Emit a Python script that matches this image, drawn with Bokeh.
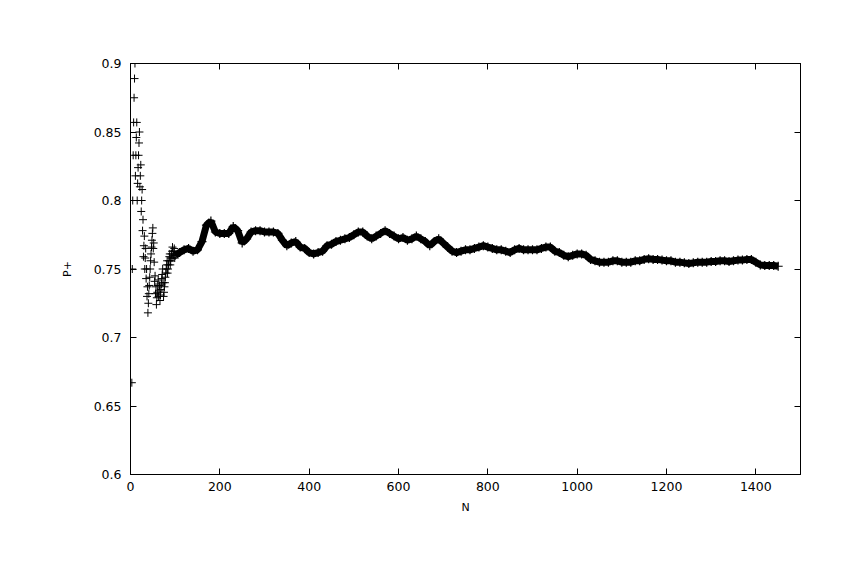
from bokeh.plotting import figure
from bokeh.models import LinearAxis, FixedTicker, Range1d, CustomJSTickFormatter
from bokeh.embed import file_html
from bokeh.resources import INLINE

# ---- data ----
# early scattered running fraction, N = 3 .. 99
n_early = list(range(3, 100))
p_early = [0.667, 0.75, 0.8, 0.833, 0.857, 0.875, 0.889, 0.9, 0.818, 0.833,
           0.846, 0.857, 0.8, 0.8125, 0.824, 0.833, 0.842, 0.85, 0.810, 0.818,
           0.826, 0.792, 0.8, 0.808, 0.778, 0.786, 0.759, 0.767, 0.774, 0.75,
           0.758, 0.765, 0.743, 0.75, 0.730, 0.737, 0.718, 0.725, 0.732, 0.738,
           0.744, 0.75, 0.756, 0.761, 0.766, 0.771, 0.776, 0.78, 0.765, 0.769,
           0.755, 0.741, 0.745, 0.732, 0.737, 0.724, 0.729, 0.733, 0.738, 0.742,
           0.730, 0.734, 0.738, 0.727, 0.731, 0.735, 0.739, 0.743, 0.746, 0.75,
           0.740, 0.730, 0.733, 0.737, 0.740, 0.744, 0.747, 0.75, 0.753, 0.756,
           0.747, 0.75, 0.753, 0.756, 0.759, 0.761, 0.753, 0.756, 0.758, 0.761,
           0.763, 0.766, 0.758, 0.760, 0.763, 0.765, 0.758]

# dense band, N = 100 .. 1450 step 10
n_band = list(range(100, 1451, 10))
p_band = [0.760, 0.762, 0.764, 0.765, 0.763, 0.764, 0.770, 0.782, 0.785, 0.777,
          0.776, 0.776, 0.776, 0.781, 0.778, 0.769, 0.772, 0.777, 0.778, 0.778,
          0.777, 0.777, 0.777, 0.776, 0.771, 0.767, 0.769, 0.770, 0.766, 0.765,
          0.762, 0.761, 0.762, 0.763, 0.767, 0.768, 0.770, 0.771, 0.772, 0.773,
          0.775, 0.777, 0.777, 0.774, 0.772, 0.774, 0.776, 0.778, 0.776, 0.774,
          0.772, 0.773, 0.771, 0.772, 0.774, 0.772, 0.770, 0.767, 0.770, 0.772,
          0.769, 0.766, 0.763, 0.762, 0.763, 0.764, 0.764, 0.765, 0.766, 0.767,
          0.766, 0.765, 0.764, 0.764, 0.763, 0.762, 0.764, 0.765, 0.764, 0.764,
          0.764, 0.764, 0.765, 0.766, 0.766, 0.763, 0.762, 0.760, 0.759, 0.760,
          0.761, 0.761, 0.760, 0.757, 0.756, 0.755, 0.755, 0.755, 0.756, 0.756,
          0.755, 0.755, 0.755, 0.756, 0.756, 0.757, 0.7575, 0.757, 0.757, 0.7565,
          0.756, 0.756, 0.755, 0.755, 0.7545, 0.754, 0.7545, 0.755, 0.755, 0.755,
          0.7555, 0.7555, 0.756, 0.756, 0.7555, 0.756, 0.7565, 0.7565, 0.757, 0.757,
          0.755, 0.753, 0.7525, 0.7525, 0.7525, 0.752]

x_ticks = [0, 200, 400, 600, 800, 1000, 1200, 1400]
y_ticks = [0.6, 0.65, 0.7, 0.75, 0.8, 0.85, 0.9]
y_tick_labels = ["0.6", "0.65", "0.7", "0.75", "0.8", "0.85", "0.9"]
x_label = "N"
y_label = "P+"

FONT = "DejaVu Sans"

p = figure(width=834, height=551, output_backend="svg", toolbar_location=None,
           x_range=Range1d(0, 1500), y_range=Range1d(0.6, 0.9),
           min_border_left=130, min_border_right=34, min_border_top=63,
           min_border_bottom=77)
p.xgrid.visible = False
p.ygrid.visible = False
p.outline_line_color = "black"
p.outline_line_width = 1
p.background_fill_color = "white"
p.border_fill_color = "white"

# band drawn as thick line beneath markers
p.line(n_band, p_band, line_color="black", line_width=7)
p.scatter(n_band, p_band, marker="cross", size=9, line_color="black", line_width=1.2)
p.scatter(n_early, p_early, marker="cross", size=8, line_color="black", line_width=1)

def style_axis(ax):
    ax.axis_line_color = "black"
    ax.axis_line_width = 1
    ax.major_tick_line_color = "black"
    ax.major_tick_in = 6
    ax.major_tick_out = 0
    ax.minor_tick_line_color = None
    ax.major_label_text_font = FONT
    ax.major_label_text_font_size = "12.5px"
    ax.major_label_text_color = "black"
    ax.axis_label_text_font = FONT
    ax.axis_label_text_font_size = "11px"
    ax.axis_label_text_font_style = "normal"
    ax.axis_label_text_color = "black"

xa = p.xaxis[0]
ya = p.yaxis[0]
xa.ticker = FixedTicker(ticks=x_ticks)
ya.ticker = FixedTicker(ticks=y_ticks)
style_axis(xa)
style_axis(ya)
ya.major_label_overrides = {t: s for t, s in zip(y_ticks, y_tick_labels)}
xa.axis_label = x_label
ya.axis_label = y_label
xa.major_label_standoff = 7
ya.major_label_standoff = 9
xa.axis_label_standoff = 7
ya.axis_label_standoff = 17

blank = CustomJSTickFormatter(code="return '';")
top = LinearAxis(ticker=FixedTicker(ticks=x_ticks), formatter=blank)
style_axis(top)
top.major_label_standoff = 0
p.add_layout(top, "above")
right = LinearAxis(ticker=FixedTicker(ticks=y_ticks), formatter=blank)
style_axis(right)
right.major_label_standoff = 0
p.add_layout(right, "right")

open("out.html", "w").write(file_html(p, INLINE))
